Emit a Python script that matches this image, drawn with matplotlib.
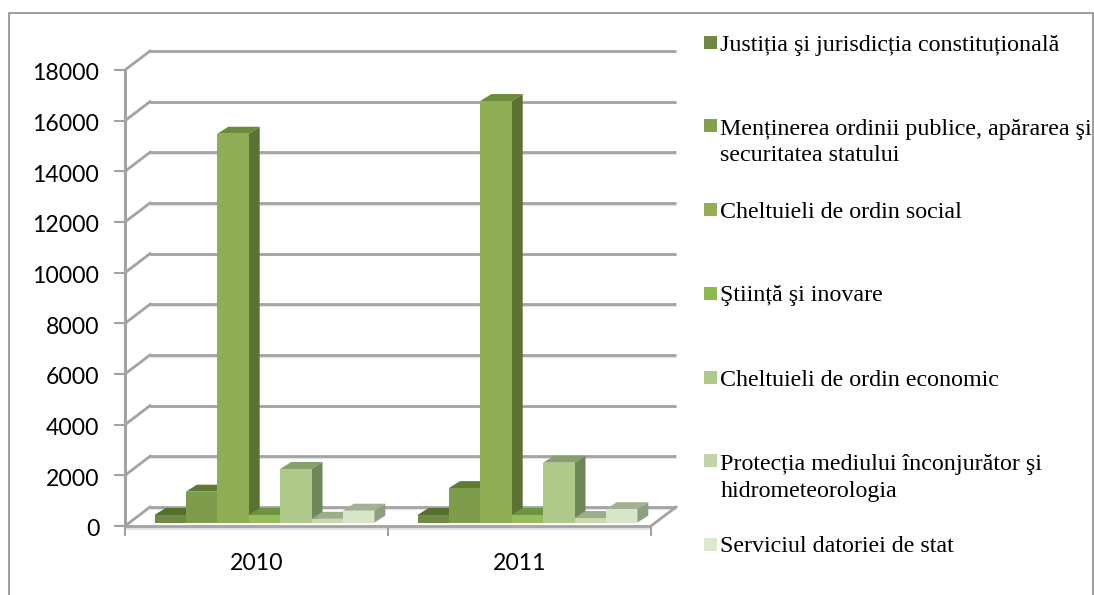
import numpy as np
import matplotlib
matplotlib.use("Agg")
import matplotlib.pyplot as plt
from matplotlib.patches import Polygon, Rectangle
from matplotlib.lines import Line2D
from matplotlib.transforms import ScaledTranslation

years = ["2010", "2011"]
values_2010 = [300, 1220, 15350, 300, 2115, 150, 470]
values_2011 = [300, 1360, 16640, 300, 2365, 180, 530]
y_ticks = [0, 2000, 4000, 6000, 8000, 10000, 12000, 14000, 16000, 18000]

legend_labels = [
    "Justiția şi jurisdicția constituțională",
    "Menținerea ordinii publice, apărarea şi\nsecuritatea statului",
    "Cheltuieli de ordin social",
    "Ştiință şi inovare",
    "Cheltuieli de ordin economic",
    "Protecția mediului înconjurător şi\nhidrometeorologia",
    "Serviciul datoriei de stat",
]
front_colors = ["#708A45", "#7F9C4C", "#8FAD54", "#97BC5A", "#AFC98B", "#C8DAAE", "#D9E5C8"]
top_colors = ["#55702D", "#5F7A33", "#6B8A3C", "#6F9440", "#87A06A", "#9CAD88", "#A3B092"]
side_colors = ["#4C6428", "#566E2E", "#5C7233", "#64853A", "#6F8758", "#8B9A78", "#909E80"]
legend_colors = ["#6F8842", "#849F4F", "#93AE54", "#8FB84F", "#AFC98B", "#C3D5A8", "#DCE7CB"]

W, H = 1094, 595
fig = plt.figure(figsize=(W / 100, H / 100), dpi=100, facecolor="white")

# front plane of the box: x 125-651 px, y 526-70 px
ax = fig.add_axes([125 / W, 1 - 526 / H, 526 / W, 456 / H])
ax.set_xlim(0, 2)
ax.set_ylim(0, 18000)
for s in ax.spines.values():
    s.set_visible(False)
ax.patch.set_alpha(0)

ux = 2 / 526  # data units per pixel
uy = 18000 / 456
grid_col = "#A3A3A3"
shadow_col = "#E2E2E2"

# fake 3d walls
wall_dx = 25 * ux
wall_dy = 19 * uy
for t in y_ticks:
    ax.plot([wall_dx, 2 + wall_dx], [t + wall_dy - 1.5 * uy] * 2, color=shadow_col, lw=1.5,
            clip_on=False, zorder=1, solid_capstyle="butt")
    ax.plot([wall_dx, 2 + wall_dx], [t + wall_dy] * 2, color=grid_col, lw=2,
            clip_on=False, zorder=1.1, solid_capstyle="butt")
    ax.plot([0, wall_dx], [t, t + wall_dy], color=grid_col, lw=2, clip_on=False, zorder=1.1)
ax.plot([2, 2 + wall_dx], [0, wall_dy], color=grid_col, lw=2, clip_on=False, zorder=1.1)
ax.plot([0, 2], [-2 * uy, -2 * uy], color=shadow_col, lw=2, clip_on=False, zorder=1,
        solid_capstyle="butt")
ax.plot([0, 2], [0, 0], color=grid_col, lw=2, clip_on=False, zorder=1.2, solid_capstyle="butt")
ax.plot([0, 0], [0, 18000], color=grid_col, lw=2.2, clip_on=False, zorder=1.2, solid_capstyle="butt")

# bars, left to right so the later front faces cover the sides
bar_w = 31.4 * ux
bar_base = 3.4 * uy
group_start = 29.5 * ux
depth_x = 11 * ux
depth_y = 7 * uy
z = 2
for i, vals in enumerate([values_2010, values_2011]):
    for j, v in enumerate(vals):
        x0 = i + group_start + j * bar_w
        x1 = x0 + bar_w
        y0 = bar_base
        y1 = bar_base + v
        ax.add_patch(Polygon([(x1, y0), (x1 + depth_x, y0 + depth_y), (x1 + depth_x, y1 + depth_y), (x1, y1)],
                             facecolor=side_colors[j], edgecolor="none", clip_on=False, zorder=z))
        ax.add_patch(Polygon([(x0, y1), (x0 + depth_x, y1 + depth_y), (x1 + depth_x, y1 + depth_y), (x1, y1)],
                             facecolor=top_colors[j], edgecolor="none", clip_on=False, zorder=z))
        ax.bar(x0, v, width=bar_w, bottom=y0, align="edge", color=front_colors[j], zorder=z + 0.1, clip_on=False)
        z += 0.2

ax.set_xticks([0, 1, 2])
ax.set_xticklabels([])
ax.set_yticks(y_ticks)
ax.tick_params(axis="both", color=grid_col, width=1.5)
ax.tick_params(axis="y", length=8, labelsize=16.6, pad=10.5)
ax.tick_params(axis="x", length=7)
# Lato sits a little high next to the tick, nudge the labels down
nudge = ScaledTranslation(0, -2 / 100, fig.dpi_scale_trans)
for lab in ax.get_yticklabels():
    lab.set_family("Lato")
    lab.set_transform(lab.get_transform() + nudge)
for i, yr in enumerate(years):
    ax.text(i + 0.5, -37 * uy, yr, ha="center", va="center", fontsize=16.6, family="Lato", color="black")

# legend placed by hand to keep the wide spacing of the original
legend_y = [42.5, 125.5, 209.5, 293.5, 377.5, 460.5, 544.5]
for lab, col, ly in zip(legend_labels, legend_colors, legend_y):
    fig.patches.append(Rectangle((704 / W, 1 - (ly + 6.5) / H), 13 / W, 13 / H, transform=fig.transFigure,
                                 facecolor=col, edgecolor="none"))
    # matplotlib anchors a two line text on its last baseline
    base = ly + 8
    if "\n" in lab:
        base += 28
    fig.text(720.5 / W, 1 - base / H, lab, ha="left", va="baseline", fontsize=17.25,
             family="Liberation Serif", color="black", linespacing=1.36)

# chart border
border = "#8C8C8C"
fig.add_artist(Line2D([8.5 / W, 8.5 / W, 1092.5 / W, 1092.5 / W], [0, 1 - 13 / H, 1 - 13 / H, 0],
                      color=border, lw=1.2))

fig.savefig("out.png", dpi=100)
